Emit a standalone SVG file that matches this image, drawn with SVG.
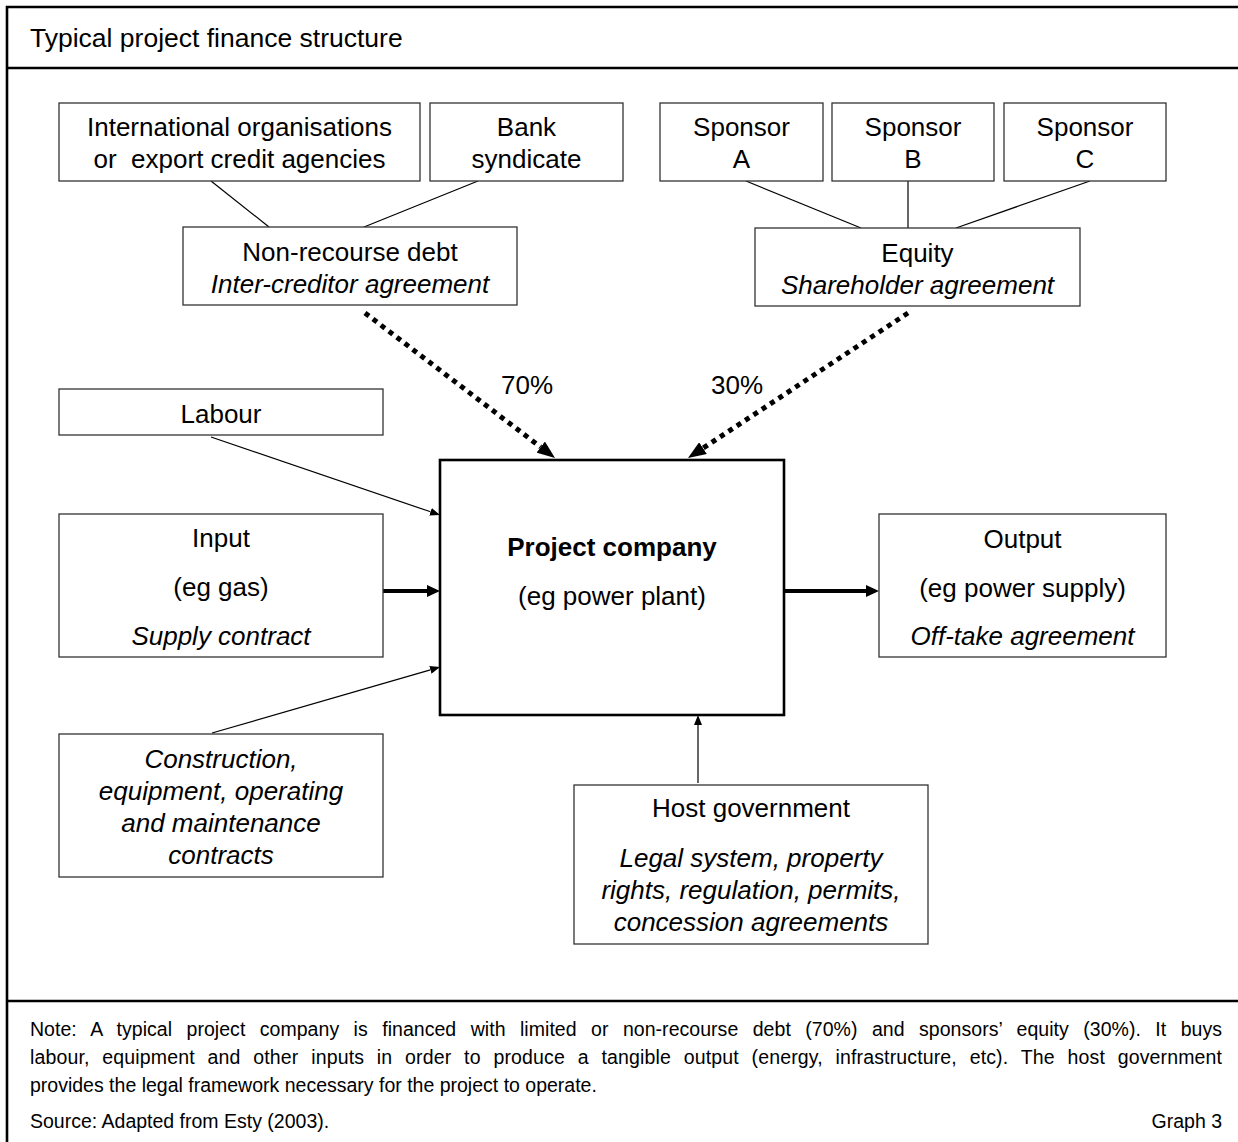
<svg xmlns="http://www.w3.org/2000/svg" width="1238" height="1142" viewBox="0 0 1238 1142">
<style>
  text { font-family: "Liberation Sans", Arial, sans-serif; fill: #000; }
  .t { font-size: 26px; text-anchor: middle; }
  .i { font-style: italic; }
  .b { font-weight: bold; }
  .box { fill: #fff; stroke: #333; stroke-width: 1.3; }
  .main { fill: #fff; stroke: #000; stroke-width: 2.6; }
  .ln { stroke: #000; stroke-width: 1.2; fill: none; }
  .thick { stroke: #000; stroke-width: 4; fill: none; }
  .dot { stroke: #000; stroke-width: 5; stroke-dasharray: 5 5; fill: none; }
  .frame { stroke: #000; stroke-width: 2.6; fill: none; }
  .note { font-size: 19.5px; }
</style>
<defs>
  <marker id="aThin" markerUnits="userSpaceOnUse" markerWidth="10" markerHeight="8" refX="0" refY="4" orient="auto">
    <path d="M0,0 L10,4 L0,8 z" fill="#000"/>
  </marker>
  <marker id="aThick" markerUnits="userSpaceOnUse" markerWidth="13" markerHeight="12" refX="0" refY="6" orient="auto">
    <path d="M0,0 L13,6 L0,12 z" fill="#000"/>
  </marker>
  <marker id="aDot" markerUnits="userSpaceOnUse" markerWidth="18" markerHeight="14" refX="0" refY="7" orient="auto">
    <path d="M0,0 L18,7 L0,14 z" fill="#000"/>
  </marker>
</defs>
<rect width="1238" height="1142" fill="#fff"/>

<g id="frame">
  <path class="frame" d="M7,1150 V7 H1250"/>
  <line class="frame" x1="7" y1="68" x2="1250" y2="68"/>
  <line class="frame" x1="7" y1="1001" x2="1250" y2="1001"/>
  <text x="30" y="47" style="font-size:26.5px">Typical project finance structure</text>
</g>

<g id="connectors">
  <line class="ln" x1="211" y1="181" x2="269" y2="227"/>
  <line class="ln" x1="478" y1="181" x2="364" y2="227"/>
  <line class="ln" x1="746" y1="181" x2="861" y2="228"/>
  <line class="ln" x1="908" y1="181" x2="908" y2="228"/>
  <line class="ln" x1="1090" y1="181" x2="956" y2="228"/>
  <line class="dot" x1="365" y1="313" x2="540.7" y2="447.1" marker-end="url(#aDot)"/>
  <line class="dot" x1="908" y1="313" x2="703" y2="448.1" marker-end="url(#aDot)"/>
  <line class="ln" x1="211" y1="437" x2="430.5" y2="511.8" marker-end="url(#aThin)"/>
  <line class="ln" x1="212" y1="733" x2="430.4" y2="669.8" marker-end="url(#aThin)"/>
  <line class="ln" x1="698" y1="783" x2="698" y2="725" marker-end="url(#aThin)"/>
  <line class="thick" x1="383" y1="591" x2="427" y2="591" marker-end="url(#aThick)"/>
  <line class="thick" x1="785" y1="591" x2="866" y2="591" marker-end="url(#aThick)"/>
  <text class="t" x="527" y="394">70%</text>
  <text class="t" x="737" y="394">30%</text>
</g>

<g id="intl">
  <rect class="box" x="59" y="103" width="361" height="78"/>
  <text class="t" x="239.5" y="136">International organisations</text>
  <text class="t" x="239.5" y="168">or&#160; export credit agencies</text>
</g>
<g id="bank">
  <rect class="box" x="430" y="103" width="193" height="78"/>
  <text class="t" x="526.5" y="136">Bank</text>
  <text class="t" x="526.5" y="168">syndicate</text>
</g>
<g id="sponsorA">
  <rect class="box" x="660" y="103" width="163" height="78"/>
  <text class="t" x="741.5" y="136">Sponsor</text>
  <text class="t" x="741.5" y="168">A</text>
</g>
<g id="sponsorB">
  <rect class="box" x="832" y="103" width="162" height="78"/>
  <text class="t" x="913" y="136">Sponsor</text>
  <text class="t" x="913" y="168">B</text>
</g>
<g id="sponsorC">
  <rect class="box" x="1004" y="103" width="162" height="78"/>
  <text class="t" x="1085" y="136">Sponsor</text>
  <text class="t" x="1085" y="168">C</text>
</g>
<g id="debt">
  <rect class="box" x="183" y="227" width="334" height="78"/>
  <text class="t" x="350" y="261">Non-recourse debt</text>
  <text class="t i" x="350" y="293">Inter-creditor agreement</text>
</g>
<g id="equity">
  <rect class="box" x="755" y="228" width="325" height="78"/>
  <text class="t" x="917.5" y="262">Equity</text>
  <text class="t i" x="917.5" y="294">Shareholder agreement</text>
</g>
<g id="labour">
  <rect class="box" x="59" y="389" width="324" height="46"/>
  <text class="t" x="221" y="423">Labour</text>
</g>
<g id="input">
  <rect class="box" x="59" y="514" width="324" height="143"/>
  <text class="t" x="221" y="547">Input</text>
  <text class="t" x="221" y="596">(eg gas)</text>
  <text class="t i" x="221" y="645">Supply contract</text>
</g>
<g id="construction">
  <rect class="box" x="59" y="734" width="324" height="143"/>
  <text class="t i" x="221" y="768">Construction,</text>
  <text class="t i" x="221" y="800">equipment, operating</text>
  <text class="t i" x="221" y="832">and maintenance</text>
  <text class="t i" x="221" y="864">contracts</text>
</g>
<g id="project">
  <rect class="main" x="440" y="460" width="344" height="255"/>
  <text class="t b" x="612" y="556">Project company</text>
  <text class="t" x="612" y="605">(eg power plant)</text>
</g>
<g id="output">
  <rect class="box" x="879" y="514" width="287" height="143"/>
  <text class="t" x="1022.5" y="548">Output</text>
  <text class="t" x="1022.5" y="597">(eg power supply)</text>
  <text class="t i" x="1022.5" y="645">Off-take agreement</text>
</g>
<g id="host">
  <rect class="box" x="574" y="785" width="354" height="159"/>
  <text class="t" x="751" y="817">Host government</text>
  <text class="t i" x="751" y="867">Legal system, property</text>
  <text class="t i" x="751" y="899">rights, regulation, permits,</text>
  <text class="t i" x="751" y="931">concession agreements</text>
</g>

<g id="notes">
  <text class="note" x="30" y="1036" word-spacing="9" textLength="1192" lengthAdjust="spacing">Note: A typical project company is financed with limited or non-recourse debt (70%) and sponsors’ equity (30%). It buys</text>
  <text class="note" x="30" y="1064" word-spacing="7.2" textLength="1192" lengthAdjust="spacing">labour, equipment and other inputs in order to produce a tangible output (energy, infrastructure, etc). The host government</text>
  <text class="note" x="30" y="1092">provides the legal framework necessary for the project to operate.</text>
  <text class="note" x="30" y="1128">Source: Adapted from Esty (2003).</text>
  <text class="note" x="1222" y="1128" text-anchor="end">Graph 3</text>
</g>
</svg>
